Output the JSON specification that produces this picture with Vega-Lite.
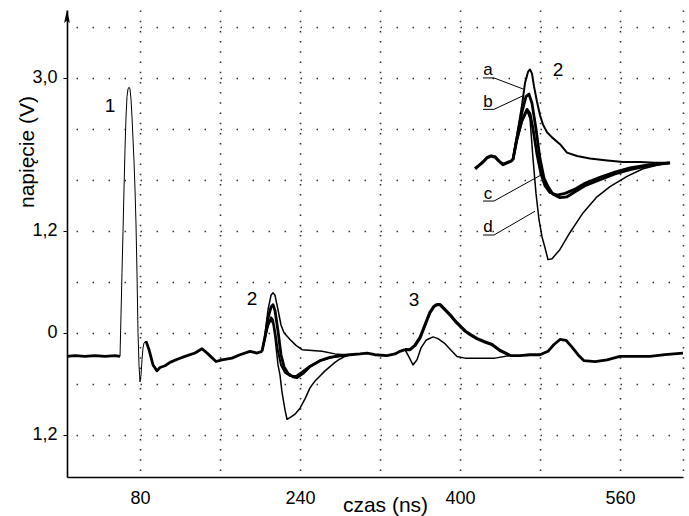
{
  "$schema": "https://vega.github.io/schema/vega-lite/v6.json",
  "width": 616,
  "height": 467,
  "autosize": "none",
  "padding": {"left": 67, "top": 10, "right": 6, "bottom": 39},
  "background": "white",
  "config": {"view": {"stroke": null}, "font": "Liberation Sans"},
  "datasets": {
    "traces": [
      {"s":"base1","t":7,"v":-0.28},{"s":"base1","t":15,"v":-0.27},{"s":"base1","t":25,"v":-0.28},{"s":"base1","t":35,"v":-0.27},{"s":"base1","t":45,"v":-0.28},{"s":"base1","t":55,"v":-0.27},{"s":"base1","t":60,"v":-0.28},
      {"s":"p1","t":60,"v":-0.28},{"s":"p1","t":61,"v":0.21},{"s":"p1","t":62,"v":0.71},{"s":"p1","t":63,"v":1.19},{"s":"p1","t":64,"v":1.69},{"s":"p1","t":65,"v":2.16},{"s":"p1","t":66,"v":2.54},{"s":"p1","t":67,"v":2.78},{"s":"p1","t":68,"v":2.87},{"s":"p1","t":69,"v":2.89},{"s":"p1","t":70,"v":2.87},{"s":"p1","t":71,"v":2.75},{"s":"p1","t":72,"v":2.54},{"s":"p1","t":73,"v":2.28},{"s":"p1","t":74,"v":2.02},{"s":"p1","t":75,"v":1.69},{"s":"p1","t":76,"v":1.28},{"s":"p1","t":77,"v":0.69},{"s":"p1","t":78,"v":0.0},{"s":"p1","t":79,"v":-0.38},{"s":"p1","t":80,"v":-0.58},{"s":"p1","t":81,"v":-0.5},{"s":"p1","t":82,"v":-0.32},{"s":"p1","t":83,"v":-0.18},{"s":"p1","t":84,"v":-0.12},{"s":"p1","t":86,"v":-0.1},
      {"s":"base2","t":86,"v":-0.1},{"s":"base2","t":89,"v":-0.2},{"s":"base2","t":93,"v":-0.38},{"s":"base2","t":97,"v":-0.45},{"s":"base2","t":100,"v":-0.41},{"s":"base2","t":105,"v":-0.39},{"s":"base2","t":110,"v":-0.35},{"s":"base2","t":118,"v":-0.31},{"s":"base2","t":125,"v":-0.28},{"s":"base2","t":135,"v":-0.24},{"s":"base2","t":142,"v":-0.19},{"s":"base2","t":148,"v":-0.25},{"s":"base2","t":156,"v":-0.34},{"s":"base2","t":162,"v":-0.32},{"s":"base2","t":172,"v":-0.3},{"s":"base2","t":180,"v":-0.26},{"s":"base2","t":190,"v":-0.22},{"s":"base2","t":197,"v":-0.24},{"s":"base2","t":202,"v":-0.22},
      {"s":"a","t":202,"v":-0.22},{"s":"a","t":205,"v":-0.02},{"s":"a","t":208,"v":0.27},{"s":"a","t":211,"v":0.44},{"s":"a","t":213,"v":0.47},{"s":"a","t":215,"v":0.44},{"s":"a","t":218,"v":0.27},{"s":"a","t":221,"v":0.09},{"s":"a","t":224,"v":0.0},{"s":"a","t":230,"v":-0.08},{"s":"a","t":236,"v":-0.15},{"s":"a","t":242,"v":-0.2},{"s":"a","t":252,"v":-0.21},{"s":"a","t":262,"v":-0.22},{"s":"a","t":275,"v":-0.25},{"s":"a","t":285,"v":-0.26},{"s":"a","t":290,"v":-0.26},
      {"s":"b","t":202,"v":-0.22},{"s":"b","t":205,"v":-0.05},{"s":"b","t":208,"v":0.17},{"s":"b","t":211,"v":0.3},{"s":"b","t":213,"v":0.33},{"s":"b","t":215,"v":0.26},{"s":"b","t":218,"v":0.02},{"s":"b","t":221,"v":-0.26},{"s":"b","t":224,"v":-0.4},{"s":"b","t":228,"v":-0.48},{"s":"b","t":233,"v":-0.52},{"s":"b","t":237,"v":-0.53},{"s":"b","t":243,"v":-0.48},{"s":"b","t":250,"v":-0.4},{"s":"b","t":260,"v":-0.33},{"s":"b","t":270,"v":-0.29},{"s":"b","t":280,"v":-0.27},{"s":"b","t":290,"v":-0.26},
      {"s":"c","t":202,"v":-0.22},{"s":"c","t":205,"v":-0.07},{"s":"c","t":208,"v":0.08},{"s":"c","t":211,"v":0.18},{"s":"c","t":213,"v":0.15},{"s":"c","t":215,"v":0.02},{"s":"c","t":218,"v":-0.22},{"s":"c","t":221,"v":-0.38},{"s":"c","t":225,"v":-0.47},{"s":"c","t":230,"v":-0.51},{"s":"c","t":236,"v":-0.51},{"s":"c","t":242,"v":-0.46},{"s":"c","t":250,"v":-0.39},{"s":"c","t":260,"v":-0.33},{"s":"c","t":272,"v":-0.29},{"s":"c","t":290,"v":-0.26},
      {"s":"d","t":202,"v":-0.22},{"s":"d","t":205,"v":-0.06},{"s":"d","t":208,"v":0.08},{"s":"d","t":211,"v":0.15},{"s":"d","t":213,"v":0.1},{"s":"d","t":215,"v":-0.06},{"s":"d","t":218,"v":-0.38},{"s":"d","t":220,"v":-0.5},{"s":"d","t":222,"v":-0.7},{"s":"d","t":225,"v":-0.91},{"s":"d","t":227,"v":-1.02},{"s":"d","t":230,"v":-1.0},{"s":"d","t":235,"v":-0.96},{"s":"d","t":240,"v":-0.89},{"s":"d","t":245,"v":-0.78},{"s":"d","t":250,"v":-0.65},{"s":"d","t":255,"v":-0.57},{"s":"d","t":260,"v":-0.51},{"s":"d","t":265,"v":-0.45},{"s":"d","t":270,"v":-0.4},{"s":"d","t":275,"v":-0.35},{"s":"d","t":280,"v":-0.31},{"s":"d","t":285,"v":-0.28},{"s":"d","t":290,"v":-0.26},
      {"s":"mid","t":290,"v":-0.26},{"s":"mid","t":300,"v":-0.25},{"s":"mid","t":307,"v":-0.24},{"s":"mid","t":315,"v":-0.26},{"s":"mid","t":327,"v":-0.27},{"s":"mid","t":335,"v":-0.25},{"s":"mid","t":340,"v":-0.22},{"s":"mid","t":345,"v":-0.2},
      {"s":"big","t":345,"v":-0.2},{"s":"big","t":350,"v":-0.2},{"s":"big","t":355,"v":-0.15},{"s":"big","t":360,"v":-0.06},{"s":"big","t":365,"v":0.09},{"s":"big","t":370,"v":0.24},{"s":"big","t":374,"v":0.31},{"s":"big","t":377,"v":0.33},{"s":"big","t":380,"v":0.33},{"s":"big","t":385,"v":0.27},{"s":"big","t":390,"v":0.21},{"s":"big","t":395,"v":0.14},{"s":"big","t":400,"v":0.08},{"s":"big","t":405,"v":0.02},{"s":"big","t":410,"v":-0.02},{"s":"big","t":417,"v":-0.07},{"s":"big","t":425,"v":-0.11},{"s":"big","t":432,"v":-0.14},{"s":"big","t":440,"v":-0.21},{"s":"big","t":447,"v":-0.25},{"s":"big","t":450,"v":-0.27},
      {"s":"small","t":345,"v":-0.2},{"s":"small","t":350,"v":-0.31},{"s":"small","t":353,"v":-0.38},{"s":"small","t":357,"v":-0.32},{"s":"small","t":361,"v":-0.18},{"s":"small","t":366,"v":-0.09},{"s":"small","t":373,"v":-0.05},{"s":"small","t":378,"v":-0.07},{"s":"small","t":385,"v":-0.13},{"s":"small","t":392,"v":-0.22},{"s":"small","t":397,"v":-0.28},{"s":"small","t":405,"v":-0.3},{"s":"small","t":420,"v":-0.3},{"s":"small","t":435,"v":-0.3},{"s":"small","t":450,"v":-0.27},
      {"s":"end","t":450,"v":-0.27},{"s":"end","t":460,"v":-0.27},{"s":"end","t":470,"v":-0.26},{"s":"end","t":480,"v":-0.26},{"s":"end","t":488,"v":-0.22},{"s":"end","t":494,"v":-0.14},{"s":"end","t":500,"v":-0.08},{"s":"end","t":506,"v":-0.09},{"s":"end","t":512,"v":-0.17},{"s":"end","t":518,"v":-0.26},{"s":"end","t":524,"v":-0.33},{"s":"end","t":535,"v":-0.34},{"s":"end","t":547,"v":-0.32},{"s":"end","t":560,"v":-0.28},{"s":"end","t":575,"v":-0.28},{"s":"end","t":590,"v":-0.28},{"s":"end","t":605,"v":-0.26},{"s":"end","t":623,"v":-0.24},
      {"s":"ibase","t":415,"v":1.93},{"s":"ibase","t":419,"v":1.97},{"s":"ibase","t":423,"v":2.01},{"s":"ibase","t":427,"v":2.06},{"s":"ibase","t":431,"v":2.08},{"s":"ibase","t":435,"v":2.07},{"s":"ibase","t":439,"v":2.02},{"s":"ibase","t":443,"v":1.98},{"s":"ibase","t":447,"v":2.0},{"s":"ibase","t":451,"v":2.02},{"s":"ibase","t":453,"v":2.04},
      {"s":"ia","t":453,"v":2.04},{"s":"ia","t":457,"v":2.32},{"s":"ia","t":462,"v":2.68},{"s":"ia","t":465,"v":2.94},{"s":"ia","t":468,"v":3.07},{"s":"ia","t":470,"v":3.1},{"s":"ia","t":472,"v":3.05},{"s":"ia","t":474,"v":2.9},{"s":"ia","t":477,"v":2.72},{"s":"ia","t":480,"v":2.56},{"s":"ia","t":483,"v":2.45},{"s":"ia","t":487,"v":2.36},{"s":"ia","t":492,"v":2.3},{"s":"ia","t":500,"v":2.22},{"s":"ia","t":507,"v":2.12},{"s":"ia","t":517,"v":2.08},{"s":"ia","t":530,"v":2.05},{"s":"ia","t":545,"v":2.03},{"s":"ia","t":563,"v":2.01},{"s":"ia","t":580,"v":2.01},{"s":"ia","t":595,"v":2.0},{"s":"ia","t":610,"v":2.0},
      {"s":"ib","t":453,"v":2.04},{"s":"ib","t":457,"v":2.3},{"s":"ib","t":462,"v":2.6},{"s":"ib","t":466,"v":2.78},{"s":"ib","t":469,"v":2.81},{"s":"ib","t":472,"v":2.7},{"s":"ib","t":476,"v":2.4},{"s":"ib","t":480,"v":2.05},{"s":"ib","t":484,"v":1.82},{"s":"ib","t":488,"v":1.72},{"s":"ib","t":493,"v":1.63},{"s":"ib","t":500,"v":1.59},{"s":"ib","t":507,"v":1.6},{"s":"ib","t":515,"v":1.66},{"s":"ib","t":525,"v":1.73},{"s":"ib","t":540,"v":1.8},{"s":"ib","t":555,"v":1.87},{"s":"ib","t":570,"v":1.92},{"s":"ib","t":590,"v":1.97},{"s":"ib","t":610,"v":2.0},
      {"s":"ic","t":453,"v":2.04},{"s":"ic","t":457,"v":2.28},{"s":"ic","t":462,"v":2.5},{"s":"ic","t":467,"v":2.63},{"s":"ic","t":470,"v":2.58},{"s":"ic","t":473,"v":2.4},{"s":"ic","t":477,"v":2.1},{"s":"ic","t":481,"v":1.87},{"s":"ic","t":485,"v":1.73},{"s":"ic","t":490,"v":1.65},{"s":"ic","t":497,"v":1.62},{"s":"ic","t":505,"v":1.64},{"s":"ic","t":515,"v":1.69},{"s":"ic","t":525,"v":1.76},{"s":"ic","t":540,"v":1.83},{"s":"ic","t":555,"v":1.89},{"s":"ic","t":570,"v":1.94},{"s":"ic","t":590,"v":1.98},{"s":"ic","t":610,"v":2.0},
      {"s":"id","t":453,"v":2.04},{"s":"id","t":457,"v":2.26},{"s":"id","t":462,"v":2.48},{"s":"id","t":467,"v":2.61},{"s":"id","t":470,"v":2.52},{"s":"id","t":473,"v":2.05},{"s":"id","t":476,"v":1.64},{"s":"id","t":479,"v":1.33},{"s":"id","t":482,"v":1.13},{"s":"id","t":485,"v":1.0},{"s":"id","t":488,"v":0.86},{"s":"id","t":492,"v":0.87},{"s":"id","t":500,"v":0.98},{"s":"id","t":510,"v":1.18},{"s":"id","t":523,"v":1.41},{"s":"id","t":537,"v":1.6},{"s":"id","t":550,"v":1.72},{"s":"id","t":567,"v":1.84},{"s":"id","t":583,"v":1.93},{"s":"id","t":600,"v":1.98},{"s":"id","t":610,"v":2.0},
      {"s":"la","t":423,"v":3.0},{"s":"la","t":434,"v":3.0},{"s":"la","t":463,"v":2.87},
      {"s":"lb","t":423,"v":2.63},{"s":"lb","t":434,"v":2.63},{"s":"lb","t":463,"v":2.79},
      {"s":"lc","t":423,"v":1.55},{"s":"lc","t":434,"v":1.55},{"s":"lc","t":483,"v":1.87},
      {"s":"ld","t":423,"v":1.15},{"s":"ld","t":434,"v":1.15},{"s":"ld","t":475,"v":1.43}
    ],
    "nums": [
      {"txt":"1","t":50,"v":2.6},
      {"txt":"2","t":192,"v":0.33},
      {"txt":"3","t":354,"v":0.31},
      {"txt":"2","t":498,"v":3.02}
    ],
    "letters": [
      {"txt":"a","t":428,"v":3.03},
      {"txt":"b","t":428,"v":2.66},
      {"txt":"c","t":428,"v":1.57},
      {"txt":"d","t":428,"v":1.18}
    ]
  },
  "encoding": {
    "x": {
      "field": "t", "type": "quantitative",
      "scale": {"domain": [7, 623], "nice": false, "zero": false},
      "axis": {
        "title": "czas (ns)",
        "values": [80, 160, 240, 320, 400, 480, 560, 623],
        "labelExpr": "indexof([80,240,400,560], datum.value) >= 0 ? datum.label : ''",
        "ticks": false, "tickSize": 0, "labelPadding": 12,
        "labelFontSize": 18, "labelColor": "#000", "labelFont": "Liberation Sans",
        "labelFlush": false, "labelOverlap": false,
        "domainColor": "#000", "domainWidth": 1.6,
        "grid": true, "gridColor": "#333", "gridWidth": 1.6, "gridDash": [1.5, 8.7],
        "titleFont": "Liberation Sans", "titleFontSize": 21, "titleFontWeight": "normal", "titleColor": "#000",
        "titleX": 318, "titleY": 34, "titleBaseline": "alphabetic", "titleAlign": "center"
      }
    },
    "y": {
      "field": "v", "type": "quantitative",
      "scale": {"domain": [-1.7, 3.8], "nice": false, "zero": false},
      "axis": {
        "title": "napięcie (V)",
        "values": [3.6, 3.0, 2.4, 1.8, 1.2, 0.6, 0, -0.6, -1.2],
        "labelExpr": "datum.value == 3 ? '3,0' : (datum.value == 1.2 || datum.value == -1.2) ? '1,2' : datum.value == 0 ? '0' : ''",
        "tickSize": 4, "tickColor": "#000", "tickWidth": 1,
        "tickOpacity": {"condition": {"test": "datum.value == 3 || datum.value == 1.2 || datum.value == 0 || datum.value == -1.2", "value": 1}, "value": 0},
        "labelPadding": 6, "labelFontSize": 18, "labelColor": "#000", "labelFont": "Liberation Sans",
        "labelFlush": false, "labelOverlap": false,
        "domainColor": "#000", "domainWidth": 1.6,
        "grid": true, "gridColor": "#333", "gridWidth": 1.6, "gridDash": [1.5, 14.5], "gridDashOffset": 7,
        "titleFont": "Liberation Sans", "titleFontSize": 21, "titleFontWeight": "normal", "titleColor": "#000",
        "titleAngle": 270, "titleX": -34, "titleY": 141.5, "titleBaseline": "alphabetic", "titleAlign": "center"
      }
    }
  },
  "layer": [
    {
      "data": {"name": "traces"},
      "transform": [{"filter": "indexof(['p1','la','lb','lc','ld'], datum.s) >= 0"}],
      "mark": {"type": "line", "color": "#000", "strokeWidth": 1, "strokeJoin": "round", "clip": false},
      "encoding": {"detail": {"field": "s"}}
    },
    {
      "data": {"name": "traces"},
      "transform": [{"filter": "indexof(['a','small','d','id'], datum.s) >= 0"}],
      "mark": {"type": "line", "color": "#000", "strokeWidth": 1.5, "strokeJoin": "round", "clip": false},
      "encoding": {"detail": {"field": "s"}}
    },
    {
      "data": {"name": "traces"},
      "transform": [{"filter": "indexof(['c','ia'], datum.s) >= 0"}],
      "mark": {"type": "line", "color": "#000", "strokeWidth": 2, "strokeJoin": "round", "clip": false},
      "encoding": {"detail": {"field": "s"}}
    },
    {
      "data": {"name": "traces"},
      "transform": [{"filter": "indexof(['base1','base2','b','mid','end','ib','ic'], datum.s) >= 0"}],
      "mark": {"type": "line", "color": "#000", "strokeWidth": 2.8, "strokeJoin": "round", "clip": false},
      "encoding": {"detail": {"field": "s"}}
    },
    {
      "data": {"name": "traces"},
      "transform": [{"filter": "indexof(['big','ibase'], datum.s) >= 0"}],
      "mark": {"type": "line", "color": "#000", "strokeWidth": 3.2, "strokeJoin": "round", "clip": false},
      "encoding": {"detail": {"field": "s"}}
    },
    {
      "data": {"values": [{"t": 7, "v": 3.8}]},
      "mark": {"type": "point", "shape": "M0,0L-0.45,2L0,1.6L0.45,2Z", "size": 169, "filled": true, "color": "#000", "opacity": 1, "strokeWidth": 0, "clip": false}
    },
    {
      "data": {"name": "nums"},
      "mark": {"type": "text", "font": "Liberation Sans", "fontSize": 19, "baseline": "alphabetic", "align": "center", "color": "#000"},
      "encoding": {"text": {"field": "txt"}}
    },
    {
      "data": {"name": "letters"},
      "mark": {"type": "text", "font": "Liberation Sans", "fontSize": 17, "baseline": "alphabetic", "align": "center", "color": "#000"},
      "encoding": {"text": {"field": "txt"}}
    }
  ]
}
